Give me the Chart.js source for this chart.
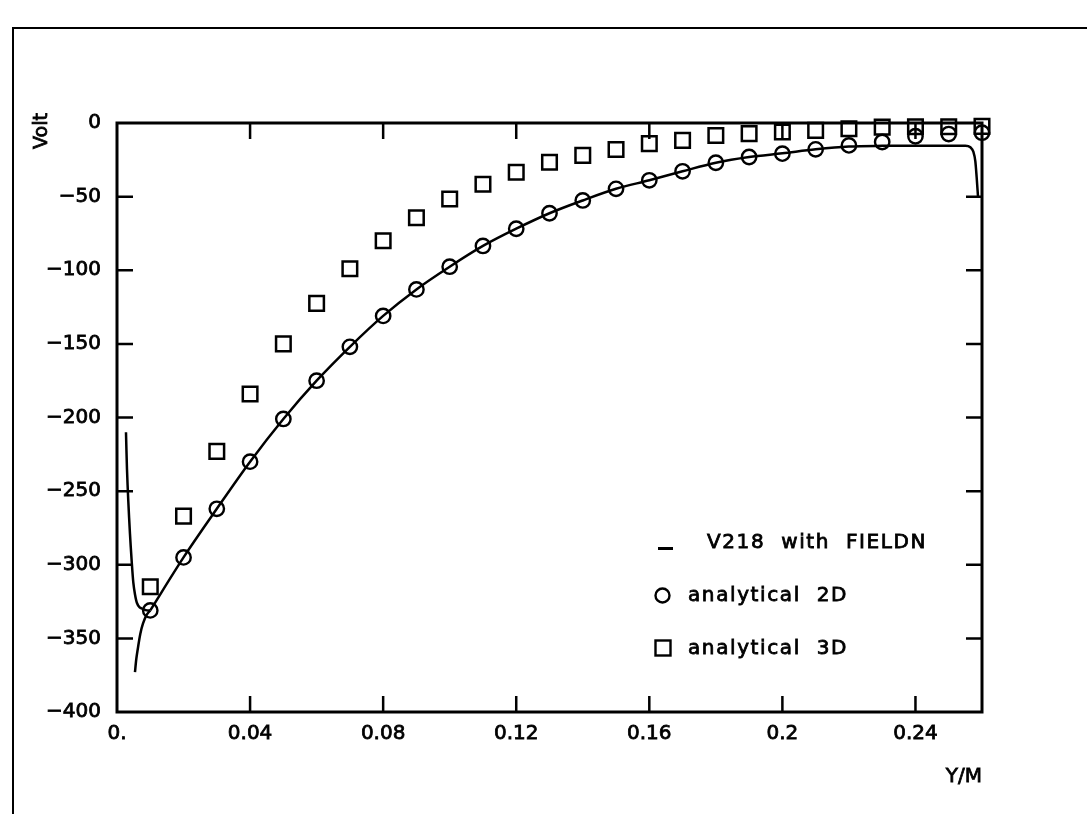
<!DOCTYPE html>
<html><head><meta charset="utf-8">
<script src="https://cdn.jsdelivr.net/npm/chart.js@4/dist/chart.umd.min.js"></script>
<style>
html,body{margin:0;padding:0;background:#fff;}
#wrap{position:relative;width:1087px;height:814px;overflow:hidden;background:#fff;}
#frame{position:absolute;left:12px;top:27px;width:1200px;height:900px;border-left:2px solid #000;border-top:2px solid #000;}
canvas{position:absolute;left:0;top:0;}
</style></head><body>
<div id="wrap"><div id="frame"></div><canvas id="c" width="1087" height="814"></canvas></div>
<script>
// ---- data ----
const xTickValues = [0, 0.04, 0.08, 0.12, 0.16, 0.2, 0.24];
const xTickLabels = ["0.", "0.04", "0.08", "0.12", "0.16", "0.2", "0.24"];
const yTickValues = [0, -50, -100, -150, -200, -250, -300, -350, -400];
const yTickLabels = ["0", "\u221250", "\u2212100", "\u2212150", "\u2212200", "\u2212250", "\u2212300", "\u2212350", "\u2212400"];

const markerX = [0.01, 0.02, 0.03, 0.04, 0.05, 0.06, 0.07, 0.08, 0.09, 0.10, 0.11, 0.12, 0.13,
                 0.14, 0.15, 0.16, 0.17, 0.18, 0.19, 0.20, 0.21, 0.22, 0.23, 0.24, 0.25, 0.26];
const analytical2D = [-331, -295, -262, -230, -201, -175, -152, -131, -113, -97.6, -83.5, -71.8, -61.3,
                      -52.6, -44.7, -38.9, -32.8, -27, -23.1, -20.8, -17.9, -15.2, -12.9, -9, -7.5, -6.6];
const analytical3D = [-315, -267, -223, -184, -150, -122.5, -99, -80, -64.3, -51.6, -41.6, -33.5, -26.7,
                      -22, -18, -14, -11.8, -8.5, -7.2, -6.1, -5, -3.9, -2.8, -2.6, -2.5, -2.3];

// V218 with FIELDN: main curve
const fieldnX = [0.01, 0.02, 0.03, 0.04, 0.05, 0.06, 0.07, 0.08, 0.09, 0.10, 0.11, 0.12, 0.13, 0.14,
                 0.15, 0.16, 0.17, 0.18, 0.19, 0.20, 0.21, 0.22, 0.23, 0.24, 0.25, 0.255, 0.2565,
                 0.2574, 0.2580, 0.2584, 0.2588];
const fieldnY = [-331, -295, -262, -230, -201, -175, -152, -131, -113, -97.6, -83.5, -71.8, -61.3, -52.6,
                 -44.7, -38.9, -32.8, -27, -23.1, -20.6, -17.9, -16, -15.5, -15.4, -15.4, -15.4, -16.5,
                 -19.5, -26, -37, -50];
// near-wall branches
const spikeX = [0.0027, 0.0030, 0.0034, 0.0039, 0.0044, 0.0049, 0.0054, 0.0060, 0.0068, 0.0078, 0.0090, 0.0100];
const spikeY = [-210, -235, -257, -279, -297, -312, -320, -326, -329, -330, -331, -331];
const lowX = [0.0054, 0.0058, 0.0064, 0.0070, 0.0078, 0.0089, 0.0100];
const lowY = [-373, -364, -355, -347, -340, -334, -331];

const legendItems = ["V218  with  FIELDN", "analytical  2D", "analytical  3D"];

// ---- build ----
const pts = (xs, ys) => xs.map((x, i) => ({x, y: ys[i]}));
const FONT = "'DejaVu Sans', sans-serif";

function boldText(ctx, t, x, y) {
  ctx.fillText(t, x, y);
  ctx.strokeText(t, x, y);
}

const decor = {
  id: 'decor',
  afterDraw(chart) {
    const {ctx, chartArea: a, scales: {x, y}} = chart;
    ctx.save();
    ctx.strokeStyle = '#000';
    ctx.lineWidth = 3;
    ctx.strokeRect(a.left, a.top, a.right - a.left, a.bottom - a.top);
    ctx.lineWidth = 2.5;
    const L = 16;
    ctx.beginPath();
    xTickValues.forEach(v => {
      if (v <= x.min || v >= x.max) return;
      const px = x.getPixelForValue(v);
      ctx.moveTo(px, a.bottom); ctx.lineTo(px, a.bottom - L);
      ctx.moveTo(px, a.top); ctx.lineTo(px, a.top + L);
    });
    yTickValues.forEach(v => {
      if (v >= y.max || v <= y.min) return;
      const py = y.getPixelForValue(v);
      ctx.moveTo(a.left, py); ctx.lineTo(a.left + L, py);
      ctx.moveTo(a.right, py); ctx.lineTo(a.right - L, py);
    });
    ctx.stroke();

    // axis titles
    ctx.fillStyle = '#000';
    ctx.lineWidth = 0.8;
    ctx.font = '19px ' + FONT;
    ctx.save();
    ctx.translate(42, 131);
    ctx.rotate(-Math.PI / 2);
    ctx.textAlign = 'center'; ctx.textBaseline = 'middle';
    boldText(ctx, 'Volt', 0, 0);
    ctx.restore();
    ctx.font = '20px ' + FONT;
    ctx.textAlign = 'right'; ctx.textBaseline = 'middle';
    boldText(ctx, 'Y/M', a.right, 777);

    // legend
    ctx.textAlign = 'left';
    ctx.letterSpacing = '1.6px';
    ctx.font = '20px ' + FONT;
    boldText(ctx, legendItems[0], 707, 543);
    boldText(ctx, legendItems[1], 688, 596);
    boldText(ctx, legendItems[2], 688, 649);
    ctx.fillRect(658, 547, 15, 3);
    ctx.lineWidth = 2.4;
    ctx.beginPath(); ctx.arc(662.5, 595.5, 7, 0, Math.PI * 2); ctx.stroke();
    ctx.strokeRect(655.5, 640.5, 15, 15);
    ctx.restore();
  }
};

const lineStyle = {showLine: true, pointRadius: 0, borderColor: '#000', borderWidth: 2.5, backgroundColor: '#000',
                   clip: false, cubicInterpolationMode: 'monotone'};

new Chart(document.getElementById('c'), {
  type: 'scatter',
  data: {
    datasets: [
      Object.assign({label: legendItems[0], data: pts(fieldnX, fieldnY)}, lineStyle),
      Object.assign({label: 'spike', data: pts(spikeX, spikeY)}, lineStyle, {cubicInterpolationMode: 'default', tension: 0.3}),
      Object.assign({label: 'low', data: pts(lowX, lowY)}, lineStyle, {cubicInterpolationMode: 'default', tension: 0.3}),
      {label: legendItems[1], data: pts(markerX, analytical2D), pointStyle: 'circle', pointRadius: 7.2,
       pointBorderWidth: 2.4, pointBorderColor: '#000', pointBackgroundColor: 'rgba(0,0,0,0)', showLine: false, clip: false},
      {label: legendItems[2], data: pts(markerX, analytical3D), pointStyle: 'rect', pointRadius: 10.3,
       pointBorderWidth: 2.5, pointBorderColor: '#000', pointBackgroundColor: 'rgba(0,0,0,0)', showLine: false, clip: false}
    ]
  },
  options: {
    responsive: false,
    animation: false,
    devicePixelRatio: 1,
    layout: {padding: {top: 123, right: 105, left: 0, bottom: 0}},
    plugins: {legend: {display: false}, tooltip: {enabled: false}},
    scales: {
      x: {
        type: 'linear', min: 0, max: 0.26,
        grid: {display: false, drawTicks: false},
        border: {display: false},
        afterBuildTicks: s => { s.ticks = xTickValues.map(v => ({value: v})); },
        afterFit: s => { s.height = 102; },
        ticks: {color: '#000', padding: 10, maxRotation: 0, autoSkip: false,
                textStrokeColor: '#000', textStrokeWidth: 0.8,
                font: {family: FONT, size: 20},
                callback: (v) => { const i = xTickValues.findIndex(t => Math.abs(t - v) < 1e-9); return i >= 0 ? xTickLabels[i] : ''; }}
      },
      y: {
        type: 'linear', min: -400, max: 0,
        grid: {display: false, drawTicks: false},
        border: {display: false},
        afterBuildTicks: s => { s.ticks = yTickValues.map(v => ({value: v})); },
        afterFit: s => { s.width = 117; },
        ticks: {color: '#000', padding: 16, autoSkip: false,
                textStrokeColor: '#000', textStrokeWidth: 0.8,
                font: {family: FONT, size: 20},
                callback: (v) => { const i = yTickValues.indexOf(v); return i >= 0 ? yTickLabels[i] : ''; }}
      }
    }
  },
  plugins: [decor]
});
</script>
</body></html>
